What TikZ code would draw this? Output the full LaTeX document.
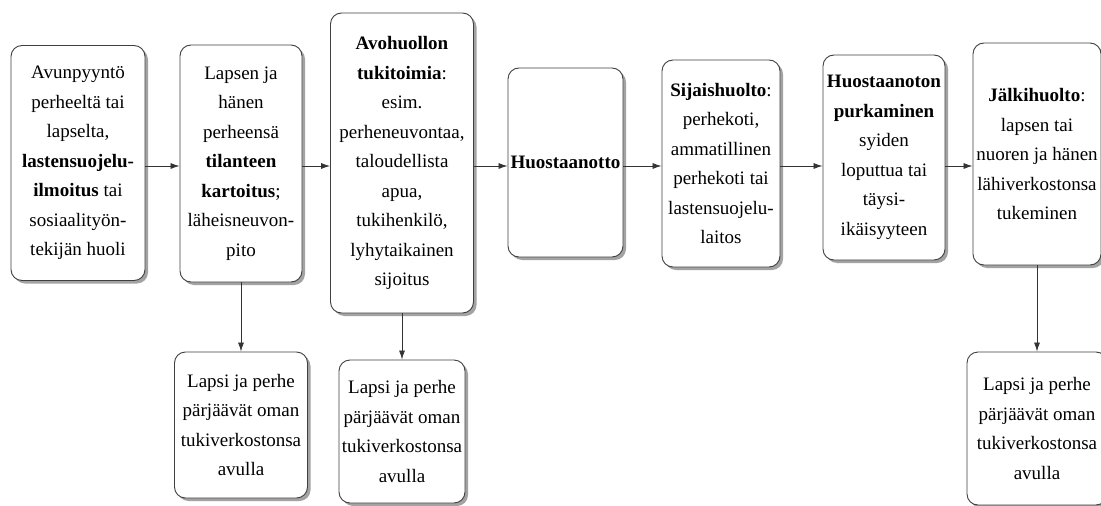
\documentclass[tikz,border=0pt]{standalone}
\usepackage{fontspec}
\setmainfont{Liberation Serif}
\usetikzlibrary{shadows,arrows.meta}

\begin{document}
\begin{tikzpicture}[x=1pt, y=-1pt,
    box/.style={draw=black!75, line width=0.9pt, fill=white, rounded corners=11pt,
        align=center, inner sep=2pt, font=\rmfamily\fontsize{19}{29.5}\selectfont,
        drop shadow={shadow xshift=3pt, shadow yshift=-3pt, fill=black!45, opacity=0.8}},
    flow/.style={line width=0.8pt, black!80, -{Latex[length=9pt,width=6pt]}}]

    \useasboundingbox (0,0) rectangle (1101,506);
    \fill[white] (0,0) rectangle (1101,506);

    % main row of steps
    \node[box, minimum width=134pt, minimum height=235pt] (b1) at (78,163)
        {Avunpyyntö\\perheeltä tai\\lapselta,\\\textbf{lastensuojelu-}\\\textbf{ilmoitus} tai\\sosiaalityön-\\tekijän huoli};
    \node[box, minimum width=122pt, minimum height=237pt] (b2) at (241,163.5)
        {Lapsen ja\\hänen\\perheensä\\\textbf{tilanteen}\\\textbf{kartoitus};\\läheisneuvon-\\pito};
    \node[box, minimum width=143pt, minimum height=300pt] (b3) at (402,163)
        {\textbf{Avohuollon}\\\textbf{tukitoimia}:\\esim.\\perheneuvontaa,\\taloudellista\\apua,\\tukihenkilö,\\lyhytaikainen\\sijoitus};
    \node[box, minimum width=115pt, minimum height=189pt] (b4) at (565.5,162.5)
        {\textbf{Huostaanotto}};
    \node[box, minimum width=118pt, minimum height=207pt] (b5) at (721,163.5)
        {\textbf{Sijaishuolto}:\\perhekoti,\\ammatillinen\\perhekoti tai\\lastensuojelu-\\laitos};
    \node[box, minimum width=122pt, minimum height=205pt] (b6) at (884,157.5)
        {\textbf{Huostaanoton}\\\textbf{purkaminen}\\syiden\\loputtua tai\\täysi-\\ikäisyyteen};
    \node[box, minimum width=128pt, minimum height=222pt] (b7) at (1037,154)
        {\textbf{Jälkihuolto}:\\lapsen tai\\nuoren ja hänen\\lähiverkostonsa\\tukeminen};

    % outcomes below
    \node[box, minimum width=133pt, minimum height=146pt] (c1) at (241,425)
        {Lapsi ja perhe\\pärjäävät oman\\tukiverkostonsa\\avulla};
    \node[box, minimum width=126pt, minimum height=143pt] (c2) at (402,431.5)
        {Lapsi ja perhe\\pärjäävät oman\\tukiverkostonsa\\avulla};
    \node[box, minimum width=140pt, minimum height=153pt] (c3) at (1037,428.5)
        {Lapsi ja perhe\\pärjäävät oman\\tukiverkostonsa\\avulla};

    % arrows
    \coordinate (row) at (0,166);
    \draw[flow] (b1.east |- row) -- (b2.west |- row);
    \draw[flow] (b2.east |- row) -- (b3.west |- row);
    \draw[flow] (b3.east |- row) -- (b4.west |- row);
    \draw[flow] (b4.east |- row) -- (b5.west |- row);
    \draw[flow] (b5.east |- row) -- (b6.west |- row);
    \draw[flow] (b6.east |- row) -- (b7.west |- row);

    \draw[flow] (b2.south) -- (c1.north);
    \draw[flow] (b3.south) -- (c2.north);
    \draw[flow] (b7.south) -- (c3.north);

\end{tikzpicture}
\end{document}
